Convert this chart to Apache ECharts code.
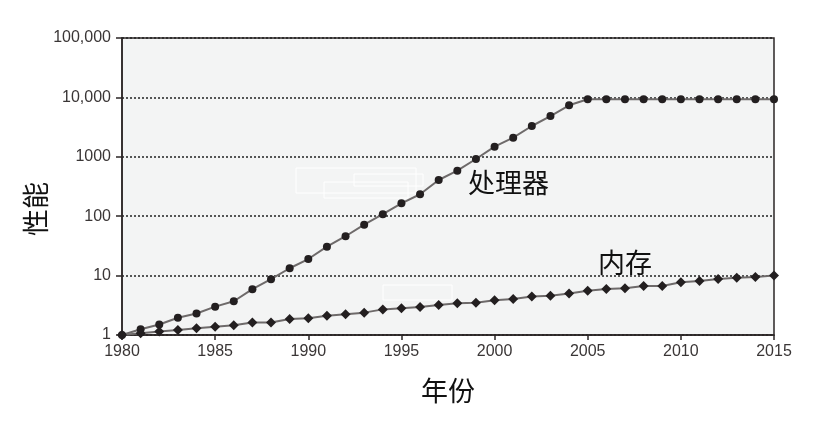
<!DOCTYPE html>
<html>
<head>
<meta charset="utf-8">
<script src="https://cdn.jsdelivr.net/npm/echarts@6/dist/echarts.min.js"></script>
<style>
html,body{margin:0;padding:0;background:#fff;}
#chart{width:825px;height:422px;}
</style>
</head>
<body>
<div id="chart"></div>
<script>
var years = [1980,1981,1982,1983,1984,1985,1986,1987,1988,1989,1990,1991,1992,1993,1994,1995,1996,1997,1998,1999,2000,2001,2002,2003,2004,2005,2006,2007,2008,2009,2010,2011,2012,2013,2014,2015];
var processor = [1,1.25,1.5,1.95,2.3,3.0,3.7,5.9,8.7,13.3,19,30.7,46,72,108,165,234,407,583,918,1480,2100,3300,4860,7360,9300,9300,9300,9300,9300,9300,9300,9300,9300,9300,9300];
var memory = [1,1.07,1.14,1.21,1.3,1.38,1.46,1.63,1.63,1.86,1.91,2.11,2.23,2.38,2.7,2.81,2.96,3.2,3.41,3.5,3.84,4.04,4.45,4.59,5.0,5.57,5.95,6.1,6.7,6.7,7.7,8.1,8.8,9.2,9.5,10];
var yTicks = {1:'1',10:'10',100:'100',1000:'1000',10000:'10,000',100000:'100,000'};
var xName = '年份';
var yName = '性能';
var processorName = '处理器';
var memoryName = '内存';

function pairs(vals){ return years.map(function(y,i){ return [y, vals[i]]; }); }

var chart = echarts.init(document.getElementById('chart'));
var lbl = {color:'#3a3636', fontFamily:'Liberation Sans, Arial, sans-serif', fontSize:16};
chart.setOption({
  animation:false,
  backgroundColor:'#ffffff',
  grid:{left:122,right:51,top:38,bottom:87,show:true,backgroundColor:'#f3f4f4',borderColor:'#2b2626',borderWidth:1.5},
  xAxis:{
    type:'value',min:1980,max:2015,interval:5,
    name:xName,nameLocation:'middle',nameGap:42,
    nameTextStyle:{fontFamily:'Noto Sans CJK SC',fontSize:27,color:'#111'},
    axisLine:{show:true,lineStyle:{color:'#2b2626',width:1.5}},
    axisTick:{show:true,length:5,lineStyle:{color:'#2b2626',width:1.5}},
    axisLabel:Object.assign({margin:9,formatter:function(v){return String(v);}},lbl),
    splitLine:{show:false}
  },
  yAxis:{
    type:'log',logBase:10,min:1,max:100000,
    axisLine:{show:true,lineStyle:{color:'#2b2626',width:1.5}},
    axisTick:{show:true,length:6,lineStyle:{color:'#2b2626',width:1.5}},
    axisLabel:Object.assign({margin:11,formatter:function(v){return yTicks[Math.round(v)]||String(v);}},lbl),
    splitLine:{show:true,lineStyle:{color:'#222',type:[2,2],width:1.5}},
    minorTick:{show:false}
  },
  series:[
    {name:processorName,type:'line',data:pairs(processor),symbol:'circle',symbolSize:8,
     lineStyle:{color:'#6e6a6a',width:2},itemStyle:{color:'#231f20'},z:3},
    {name:memoryName,type:'line',data:pairs(memory),symbol:'diamond',symbolSize:[10,10],
     lineStyle:{color:'#6e6a6a',width:2},itemStyle:{color:'#231f20'},z:3}
  ],
  graphic:[
    {type:'text',x:36,y:209,rotation:Math.PI/2,style:{text:yName,font:'27px "Noto Sans CJK SC"',fill:'#111',align:'center',verticalAlign:'middle'}},
    {type:'text',left:468,top:169,style:{text:processorName,font:'27px "Noto Sans CJK SC"',fill:'#111'}},
    {type:'text',left:598,top:249,style:{text:memoryName,font:'27px "Noto Sans CJK SC"',fill:'#111'}},
    {type:'rect',shape:{x:296,y:168,width:120,height:25},style:{fill:'none',stroke:'#ffffff',lineWidth:1}},
    {type:'rect',shape:{x:354,y:174,width:69,height:12},style:{fill:'none',stroke:'#ffffff',lineWidth:1}},
    {type:'rect',shape:{x:324,y:182,width:84,height:16},style:{fill:'none',stroke:'#ffffff',lineWidth:1}},
    {type:'rect',shape:{x:383,y:285,width:69,height:15},style:{fill:'none',stroke:'#ffffff',lineWidth:1}}
  ]
});
</script>
</body>
</html>
